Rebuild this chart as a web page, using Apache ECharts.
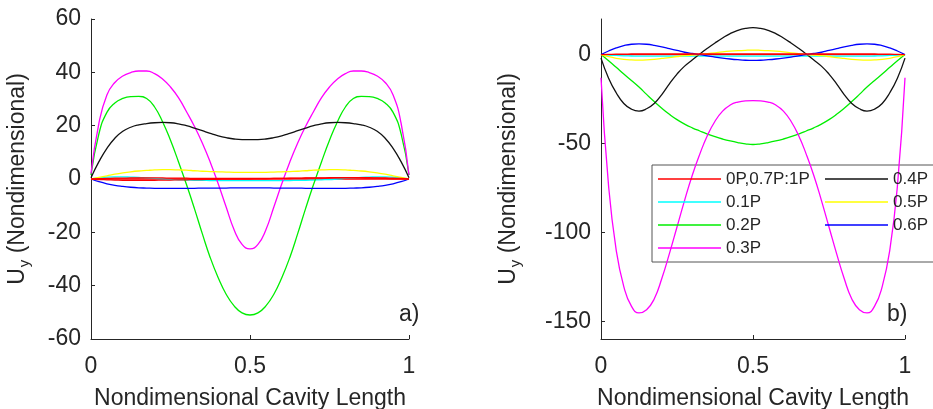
<!DOCTYPE html>
<html>
<head>
<meta charset="utf-8">
<script src="https://cdn.jsdelivr.net/npm/echarts@6/dist/echarts.min.js"></script>
<style>
  html, body { margin: 0; padding: 0; background: #fff; }
  #chart { width: 933px; height: 409px; }
</style>
</head>
<body>
<div id="chart"></div>
<script>
// Nondimensional cavity position (shared by every curve)
const xs = [0, 0.025, 0.05, 0.075, 0.1, 0.125, 0.15, 0.175, 0.2, 0.225, 0.25, 0.275, 0.3, 0.325, 0.35, 0.375, 0.4, 0.425, 0.45, 0.475, 0.5,
            0.525, 0.55, 0.575, 0.6, 0.625, 0.65, 0.675, 0.7, 0.725, 0.75, 0.775, 0.8, 0.825, 0.85, 0.875, 0.9, 0.925, 0.95, 0.975, 1];

// Panel a) displacement profiles
const redA0 = [0,0,0,0,0,0,0,0,0,0,0,0,0,0,0,0,0,0,0,0,0,0,0,0,0,0,0,0,0,0,0,0,0,0,0,0,0,0,0,0,0];
const redA7 = [0, -0.2, -0.3, -0.4, -0.5, -0.5, -0.5, -0.5, -0.5, -0.4, -0.4, -0.3, -0.3, -0.2, -0.2, -0.1, -0.1, 0, 0, 0, 0, 0.1, 0.1, 0.2, 0.2, 0.3, 0.3, 0.4, 0.4, 0.4, 0.5, 0.5, 0.5, 0.5, 0.5, 0.5, 0.4, 0.4, 0.3, 0.2, 0];
const redA9 = [0, 0.1, 0.2, 0.3, 0.3, 0.4, 0.4, 0.4, 0.4, 0.4, 0.3, 0.3, 0.3, 0.2, 0.2, 0.2, 0.2, 0.2, 0.2, 0.2, 0.2, 0.2, 0.2, 0.2, 0.2, 0.2, 0.2, 0.3, 0.3, 0.3, 0.4, 0.4, 0.4, 0.4, 0.4, 0.3, 0.3, 0.2, 0.1, 0.1, 0];
const cyanA = [0, 0.4, 0.7, 0.8, 0.8, 0.7, 0.6, 0.4, 0.2, 0, -0.2, -0.3, -0.4, -0.5, -0.5, -0.6, -0.6, -0.6, -0.6, -0.6, -0.6, -0.6, -0.6, -0.6, -0.6, -0.6, -0.5, -0.5, -0.4, -0.3, -0.2, 0, 0.2, 0.4, 0.6, 0.7, 0.8, 0.8, 0.7, 0.4, 0];
const greenA = [1.5, 17, 25, 28.5, 30.2, 30.9, 31, 30.2, 27, 21.5, 14.5, 6.5, -2, -11, -20.5, -29.5, -37, -43.2, -47.6, -50.2, -51, -50.2, -47.6, -43.2, -37, -29.5, -20.5, -11, -2, 6.5, 14.5, 21.5, 27, 30.2, 31, 30.9, 30.2, 28.5, 25, 17, 1.5];
const magentaA = [2, 21, 31.5, 36.2, 38.6, 39.9, 40.5, 40.5, 39.5, 37.5, 34.5, 30.5, 25.3, 19.8, 13.5, 6.3, -1.8, -10.5, -19, -24.5, -26.2, -24.5, -19, -10.5, -1.8, 6.3, 13.5, 19.8, 25.3, 30.5, 34.5, 37.5, 39.5, 40.5, 40.5, 39.9, 38.6, 36.2, 31.5, 21, 1.5];
const blackA = [0.5, 6.5, 11.5, 15.3, 17.9, 19.4, 20.3, 20.8, 21.1, 21.2, 21.1, 20.7, 20, 19.1, 18.1, 17.1, 16.2, 15.5, 15, 14.8, 14.8, 14.8, 15, 15.5, 16.2, 17.1, 18.1, 19.1, 20, 20.7, 21.1, 21.2, 21.1, 20.8, 20.3, 19.4, 17.9, 15.3, 11.5, 6.5, 0.5];
const yellowA = [0, 0.6, 1.2, 1.8, 2.3, 2.7, 3, 3.2, 3.4, 3.5, 3.5, 3.4, 3.3, 3.1, 2.9, 2.8, 2.7, 2.6, 2.5, 2.5, 2.5, 2.5, 2.5, 2.6, 2.7, 2.8, 2.9, 3.1, 3.3, 3.4, 3.5, 3.5, 3.4, 3.2, 3, 2.7, 2.3, 1.8, 1.2, 0.6, 0];
const blueA = [0, -1, -1.8, -2.4, -2.8, -3.1, -3.3, -3.4, -3.5, -3.5, -3.5, -3.5, -3.5, -3.5, -3.4, -3.4, -3.4, -3.4, -3.3, -3.3, -3.3, -3.3, -3.3, -3.4, -3.4, -3.4, -3.4, -3.5, -3.5, -3.5, -3.5, -3.5, -3.5, -3.4, -3.3, -3.1, -2.8, -2.4, -1.8, -1, 0];

// Panel b) displacement profiles
const redB0 = [0,0,0,0,0,0,0,0,0,0,0,0,0,0,0,0,0,0,0,0,0,0,0,0,0,0,0,0,0,0,0,0,0,0,0,0,0,0,0,0,0];
const redB7 = [0, 0.1, 0.2, 0.2, 0.3, 0.3, 0.3, 0.3, 0.3, 0.3, 0.3, 0.3, 0.3, 0.3, 0.3, 0.3, 0.3, 0.3, 0.3, 0.3, 0.3, 0.3, 0.3, 0.3, 0.3, 0.3, 0.3, 0.3, 0.3, 0.3, 0.3, 0.3, 0.3, 0.3, 0.3, 0.3, 0.3, 0.2, 0.2, 0.1, 0];
const cyanB = [0, -0.3, -0.5, -0.7, -0.8, -0.9, -0.9, -0.9, -0.9, -0.9, -0.9, -0.9, -0.9, -0.9, -0.9, -0.9, -0.9, -0.9, -0.9, -0.9, -0.9, -0.9, -0.9, -0.9, -0.9, -0.9, -0.9, -0.9, -0.9, -0.9, -0.9, -0.9, -0.9, -0.9, -0.9, -0.9, -0.8, -0.7, -0.5, -0.3, 0];
const greenB = [0, -3.5, -7.2, -11, -14.6, -18.3, -22.4, -26.4, -30.2, -33.6, -36.6, -39.1, -41.2, -43, -44.7, -46.2, -47.5, -48.6, -49.5, -50.2, -50.6, -50.2, -49.5, -48.6, -47.5, -46.2, -44.7, -43, -41.2, -39.1, -36.6, -33.6, -30.2, -26.4, -22.4, -18.3, -14.6, -11, -7.2, -3.5, 0];
const magentaB = [-13, -74, -110, -130.5, -141.5, -145.3, -143.5, -137.5, -126, -112, -97, -82, -68, -56, -45.5, -37.5, -31.8, -28.4, -26.7, -26, -25.9, -26, -26.7, -28.4, -31.8, -37.5, -45.5, -56, -68, -82, -97, -112, -126, -137.5, -143.5, -145.3, -141.5, -130.5, -110, -74, -13];
const blackB = [-2, -13.3, -21.5, -27.5, -30.7, -31.8, -30.5, -27.5, -22.5, -16.5, -11, -6.5, -3.1, 0.3, 3.5, 6.5, 9.3, 11.8, 13.6, 14.7, 15.1, 14.7, 13.6, 11.8, 9.3, 6.5, 3.5, 0.3, -3.1, -6.5, -11, -16.5, -22.5, -27.5, -30.5, -31.8, -30.7, -27.5, -21.5, -13.3, -2];
const yellowB = [0, -1.2, -2.1, -2.7, -3, -3.1, -3, -2.7, -2.2, -1.7, -1.1, -0.6, -0.3, 0, 0.5, 1, 1.5, 1.9, 2.2, 2.4, 2.5, 2.4, 2.2, 1.9, 1.5, 1, 0.5, 0, -0.3, -0.6, -1.1, -1.7, -2.2, -2.7, -3, -3.1, -3, -2.7, -2.1, -1.2, 0];
const blueB = [0, 2, 3.7, 5, 5.8, 6, 5.8, 5.2, 4.3, 3.3, 2.3, 1.3, 0.6, 0, -0.7, -1.4, -2, -2.5, -2.9, -3.2, -3.3, -3.2, -2.9, -2.5, -2, -1.4, -0.7, 0, 0.6, 1.3, 2.3, 3.3, 4.3, 5.2, 5.8, 6, 5.8, 5, 3.7, 2, 0];

// Load-case names and colours
const NAME_RED = '0P,0.7P:1P';
const legendLeft = [NAME_RED, '0.1P', '0.2P', '0.3P'];
const legendRight = ['0.4P', '0.5P', '0.6P'];
const colors = { red: '#ff0000', cyan: '#00ffff', green: '#00ee00', magenta: '#ff00ff', black: '#111111', yellow: '#ffff00', blue: '#0000ff' };

const yTicksB = [-150, -100, -50, 0];

const FONT = '"Liberation Sans", Arial, Helvetica, sans-serif';
const INK = '#262626';

function pairs(vals) { return xs.map((x, i) => [x, vals[i]]); }

function line(name, color, vals, panel) {
  return {
    type: 'line', name: name, xAxisIndex: panel, yAxisIndex: panel,
    data: pairs(vals), showSymbol: false, symbol: 'none',
    smooth: 0.5,
    lineStyle: { color: color, width: 1.3 }, itemStyle: { color: color },
    emphasis: { disabled: true }, silent: true
  };
}

const axisCommon = {
  axisLine: { show: true, onZero: false, lineStyle: { color: INK, width: 1 } },
  axisTick: { show: true, inside: true, length: 4, lineStyle: { color: INK, width: 1 } },
  axisLabel: { fontSize: 23, color: INK, fontFamily: FONT },
  splitLine: { show: false },
  nameTextStyle: { fontSize: 23, color: INK, fontFamily: FONT }
};

const yName = '{u|U}{s|y}{t| (Nondimensional)}';
const yRich = {
  u: { fontSize: 23, fontFamily: FONT, color: INK, lineHeight: 26 },
  s: { fontSize: 15, fontFamily: FONT, color: INK, lineHeight: 15, padding: [14, 0, 0, 1] },
  t: { fontSize: 23, fontFamily: FONT, color: INK, lineHeight: 26 }
};

function xAxis(idx) {
  return Object.assign({}, axisCommon, {
    type: 'value', gridIndex: idx, min: 0, max: 1, interval: 0.5,
    axisLabel: Object.assign({}, axisCommon.axisLabel, { margin: 16 }),
    name: 'Nondimensional Cavity Length', nameLocation: 'middle', nameGap: 48
  });
}

const legendCommon = {
  orient: 'vertical', top: 170, padding: 0, icon: 'rect',
  itemWidth: 63, itemHeight: 1.4, itemGap: 5, selectedMode: false,
  textStyle: { fontSize: 17, lineHeight: 18, color: INK, fontFamily: FONT }
};

const option = {
  animation: false,
  backgroundColor: '#ffffff',
  textStyle: { fontFamily: FONT },
  grid: [
    { left: 91, top: 19, width: 318, height: 320, containLabel: false, outerBoundsMode: 'none' },
    { left: 601, top: 19, width: 304, height: 320, containLabel: false, outerBoundsMode: 'none' }
  ],
  xAxis: [xAxis(0), xAxis(1)],
  yAxis: [
    Object.assign({}, axisCommon, {
      type: 'value', gridIndex: 0, min: -60, max: 60, interval: 20,
      axisLabel: Object.assign({}, axisCommon.axisLabel, { margin: 10 }),
      name: yName, nameLocation: 'middle', nameRotate: 90, nameGap: 60,
      nameTextStyle: Object.assign({}, axisCommon.nameTextStyle, { rich: yRich })
    }),
    Object.assign({}, axisCommon, {
      type: 'value', gridIndex: 1, min: -160, max: 20,
      axisTick: Object.assign({}, axisCommon.axisTick, { customValues: yTicksB }),
      axisLabel: Object.assign({}, axisCommon.axisLabel, { margin: 10, customValues: yTicksB }),
      name: yName, nameLocation: 'middle', nameRotate: 90, nameGap: 79,
      nameTextStyle: Object.assign({}, axisCommon.nameTextStyle, { rich: yRich })
    })
  ],
  legend: [
    Object.assign({ data: legendLeft, left: 658 }, legendCommon),
    Object.assign({ data: legendRight, left: 825 }, legendCommon)
  ],
  graphic: [
    { type: 'rect', z: 3, silent: true, shape: { x: 652, y: 165, width: 320, height: 97 },
      style: { fill: '#ffffff', stroke: '#555555', lineWidth: 1 } },
    { type: 'text', z: 5, silent: true, x: 399, y: 303,
      style: { text: 'a)', font: '23px ' + FONT, fill: INK, textVerticalAlign: 'top' } },
    { type: 'text', z: 5, silent: true, x: 887, y: 303,
      style: { text: 'b)', font: '23px ' + FONT, fill: INK, textVerticalAlign: 'top' } }
  ],
  series: [
    line(NAME_RED, colors.red, redA0, 0),
    line('0.1P', colors.cyan, cyanA, 0),
    line('0.2P', colors.green, greenA, 0),
    line('0.3P', colors.magenta, magentaA, 0),
    line('0.4P', colors.black, blackA, 0),
    line('0.5P', colors.yellow, yellowA, 0),
    line('0.6P', colors.blue, blueA, 0),
    line(NAME_RED, colors.red, redA7, 0),
    line(NAME_RED, colors.red, redA9, 0),

    line(NAME_RED, colors.red, redB0, 1),
    line('0.1P', colors.cyan, cyanB, 1),
    line('0.2P', colors.green, greenB, 1),
    line('0.3P', colors.magenta, magentaB, 1),
    line('0.4P', colors.black, blackB, 1),
    line('0.5P', colors.yellow, yellowB, 1),
    line('0.6P', colors.blue, blueB, 1),
    line(NAME_RED, colors.red, redB7, 1)
  ]
};

const chart = echarts.init(document.getElementById('chart'), null, { renderer: 'canvas' });
chart.setOption(option);
</script>
</body>
</html>
